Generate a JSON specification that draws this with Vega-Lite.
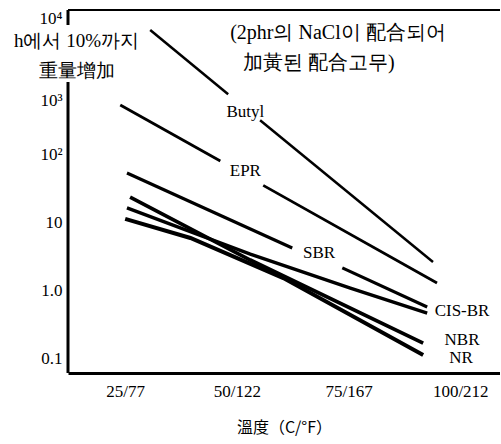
{
  "$schema": "https://vega.github.io/schema/vega-lite/v6.json",
  "width": 432,
  "height": 363,
  "autosize": {"type": "none"},
  "padding": {"left": 68, "top": 10, "right": 0, "bottom": 71},
  "background": "white",
  "config": {
    "view": {"stroke": null},
    "font": "Liberation Serif",
    "text": {"font": "Liberation Serif", "color": "black"}
  },
  "datasets": {
    "lines": [
      {"rubber": "Butyl", "segment": "Butyl-1", "temp": 30.6, "gain": 6670},
      {"rubber": "Butyl", "segment": "Butyl-1", "temp": 48.05, "gain": 757},
      {"rubber": "Butyl", "segment": "Butyl-2", "temp": 55.2, "gain": 313},
      {"rubber": "Butyl", "segment": "Butyl-2", "temp": 93.9, "gain": 2.58},
      {"rubber": "EPR", "segment": "EPR-1", "temp": 23.9, "gain": 526},
      {"rubber": "EPR", "segment": "EPR-1", "temp": 46.3, "gain": 78.9},
      {"rubber": "EPR", "segment": "EPR-2", "temp": 55.9, "gain": 34.6},
      {"rubber": "EPR", "segment": "EPR-2", "temp": 94.8, "gain": 1.27},
      {"rubber": "SBR", "segment": "SBR-1", "temp": 25.4, "gain": 52.6},
      {"rubber": "SBR", "segment": "SBR-1", "temp": 62.4, "gain": 4.15},
      {"rubber": "SBR", "segment": "SBR-2", "temp": 73.6, "gain": 2.11},
      {"rubber": "SBR", "segment": "SBR-2", "temp": 92.6, "gain": 0.562},
      {"rubber": "CIS-BR", "segment": "CIS-BR", "temp": 25.4, "gain": 16.1},
      {"rubber": "CIS-BR", "segment": "CIS-BR", "temp": 53.0, "gain": 3.38},
      {"rubber": "CIS-BR", "segment": "CIS-BR", "temp": 75.4, "gain": 1.07},
      {"rubber": "CIS-BR", "segment": "CIS-BR", "temp": 92.6, "gain": 0.459},
      {"rubber": "NBR", "segment": "NBR", "temp": 26.1, "gain": 23.3},
      {"rubber": "NBR", "segment": "NBR", "temp": 53.0, "gain": 2.76},
      {"rubber": "NBR", "segment": "NBR", "temp": 91.7, "gain": 0.166},
      {"rubber": "NR", "segment": "NR", "temp": 25.0, "gain": 11.1},
      {"rubber": "NR", "segment": "NR", "temp": 39.6, "gain": 5.82},
      {"rubber": "NR", "segment": "NR", "temp": 60.4, "gain": 1.5},
      {"rubber": "NR", "segment": "NR", "temp": 91.7, "gain": 0.111}
    ],
    "labels": [
      {"label": "Butyl", "temp": 51.9, "gain": 415},
      {"label": "EPR", "temp": 51.9, "gain": 56.2},
      {"label": "SBR", "temp": 68.4, "gain": 3.5},
      {"label": "CIS-BR", "temp": 100.4, "gain": 0.491},
      {"label": "NBR", "temp": 100.4, "gain": 0.184},
      {"label": "NR", "temp": 100.2, "gain": 0.1}
    ],
    "notes": [
      {"note": "(2phr의 NaCl이 配合되어", "temp": 48.5, "gain": 6015},
      {"note": "加黃된 配合고무)", "temp": 51.4, "gain": 2178}
    ]
  },
  "layer": [
    {
      "data": {"name": "lines"},
      "mark": {"type": "line", "color": "black", "strokeCap": "butt"},
      "encoding": {
        "x": {
          "field": "temp", "type": "quantitative",
          "scale": {"domain": [12.2, 108.9], "nice": false, "zero": false},
          "axis": {
            "values": [25, 50, 75, 100],
            "labelExpr": "datum.value + '/' + (datum.value * 9 / 5 + 32)",
            "ticks": false, "grid": false,
            "domainColor": "black", "domainWidth": 3,
            "labelFontSize": 17, "labelColor": "black", "labelPadding": 10,
            "labelFont": "Liberation Serif",
            "title": "溫度（C/°F）", "titleFont": "Noto Sans CJK KR",
            "titleFontSize": 16, "titleFontWeight": "normal", "titleColor": "black",
            "titlePadding": 20
          }
        },
        "y": {
          "field": "gain", "type": "quantitative",
          "scale": {"type": "log", "domain": [0.0602, 13120], "nice": false},
          "axis": {
            "values": [0.1, 1, 10, 100, 1000, 10000],
            "labelExpr": "datum.value == 10000 ? '10⁴' : datum.value == 1000 ? '10³' : datum.value == 100 ? '10²' : datum.value == 10 ? '10' : datum.value == 1 ? '1.0' : '0.1'",
            "labelOffset": {"condition": {"test": "datum.value == 1000", "value": 14}, "value": 0},
            "ticks": false, "grid": false, "domain": false,
            "labelFontSize": 17, "labelColor": "black", "labelPadding": 6,
            "labelFont": "Liberation Serif",
            "title": ["h에서 10%까지", "重量增加"],
            "titleAngle": 0, "titleAlign": "center", "titleBaseline": "middle",
            "titleX": 8, "titleY": 30, "titleLineHeight": 30,
            "titleFont": "Liberation Serif", "titleFontSize": 19,
            "titleFontWeight": "normal", "titleColor": "black"
          }
        },
        "detail": {"field": "segment"},
        "strokeWidth": {
          "field": "rubber", "type": "nominal",
          "scale": {"domain": ["Butyl", "EPR", "SBR", "CIS-BR", "NBR", "NR"], "range": [2.5, 4, 5, 4, 5, 5]},
          "legend": null
        }
      }
    },
    {
      "data": {"values": [{}]},
      "mark": {"type": "rule", "color": "black", "strokeWidth": 2},
      "encoding": {"y": {"datum": 13120}}
    },
    {
      "data": {"values": [{}]},
      "mark": {"type": "rule", "color": "black", "strokeWidth": 3},
      "encoding": {"x": {"datum": 12.2}, "y": {"datum": 13120}, "y2": {"datum": 7890}}
    },
    {
      "data": {"values": [{}]},
      "mark": {"type": "rule", "color": "black", "strokeWidth": 3},
      "encoding": {"x": {"datum": 12.2}, "y": {"datum": 1145}, "y2": {"datum": 0.0602}}
    },
    {
      "data": {"name": "labels"},
      "mark": {"type": "text", "fontSize": 17, "align": "center", "baseline": "middle"},
      "encoding": {
        "x": {"field": "temp", "type": "quantitative"},
        "y": {"field": "gain", "type": "quantitative"},
        "text": {"field": "label"}
      }
    },
    {
      "data": {"name": "notes"},
      "mark": {"type": "text", "fontSize": 20, "align": "left", "baseline": "middle"},
      "encoding": {
        "x": {"field": "temp", "type": "quantitative"},
        "y": {"field": "gain", "type": "quantitative"},
        "text": {"field": "note"}
      }
    }
  ]
}
